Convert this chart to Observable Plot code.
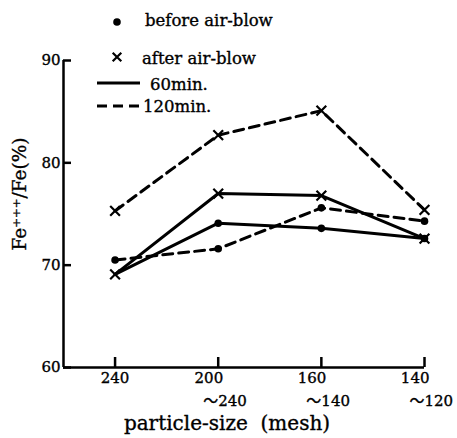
<!DOCTYPE html>
<html><head><meta charset="utf-8">
<script src="https://cdn.jsdelivr.net/npm/d3@7"></script>
<script src="https://cdn.jsdelivr.net/npm/@observablehq/plot@0.6"></script>
<style>
body{margin:0;background:#fff;}
#wrap{position:relative;width:457px;height:438px;}
#legend{position:absolute;left:0;top:0;}
text{stroke:#000;stroke-width:0.35px;}
</style></head><body><div id="wrap"></div>
<script>
// categories (particle size, mesh)
const categories = ["240", "200～240", "160～140", "140～120"];
const tickTop = ["240", "200", "160", "140"];
const tickBottom = ["", "～240", "～140", "～120"];
// Fe+++/Fe (%)
const before60 = [69.1, 74.1, 73.6, 72.6];
const after60 = [69.1, 77.0, 76.8, 72.6];
const before120 = [70.5, 71.6, 75.6, 74.3];
const after120 = [75.3, 82.7, 85.1, 75.4];
const before60Marker = [false, true, true, true];
const yTicks = [60, 70, 80, 90];
const legendLabels = ["before air-blow", "after air-blow", "60min.", "120min."];
const xTitle = "particle-size\u00a0 (mesh)";
const yTitle = "Fe⁺⁺⁺/Fe(%)";

const rows = [];
function add(vals, time, state, marks) {
  vals.forEach((v, i) => rows.push({i, v, time, state, series: state + time, marker: marks ? marks[i] : true}));
}
add(before60, "60", "before", before60Marker);
add(after60, "60", "after");
add(before120, "120", "before");
add(after120, "120", "after");

const idx = categories.map((d, i) => i);
const font = "'DejaVu Serif', 'Noto Sans CJK JP', serif";
const W = 457, H = 438, mT = 60, mB = 71, mL = 63, mR = 33;
const frameW = W - mL - mR, frameH = H - mT - mB;

const plot = Plot.plot({
  width: W, height: H,
  marginTop: mT, marginBottom: mB, marginLeft: mL, marginRight: mR,
  style: {fontFamily: font, fontSize: "15px", color: "#000", background: "#fff"},
  x: {type: "linear", domain: [-0.5, categories.length - 1], axis: null},
  y: {domain: [60, 90], axis: null},
  marks: [
    Plot.ruleX([-0.5], {strokeWidth: 2.5, stroke: "#000"}),
    Plot.ruleY([60], {strokeWidth: 2.5, stroke: "#000"}),
    // inward tick marks
    Plot.tickY(yTicks, {y: d => d, insetRight: frameW - 8, stroke: "#000", strokeWidth: 2.5}),
    Plot.tickX(idx, {x: d => d, insetTop: frameH - 10, stroke: "#000", strokeWidth: 2.5}),
    Plot.text(yTicks, {y: d => d, text: d => String(d), frameAnchor: "left", dx: -3, textAnchor: "end", lineAnchor: "middle", fontSize: 15}),
    Plot.text(idx.filter(i => !tickBottom[i]), {x: d => d, text: d => tickTop[d], frameAnchor: "bottom", dy: 11, lineAnchor: "middle", fontSize: 15}),
    Plot.text(idx.filter(i => tickBottom[i]), {x: d => d, text: d => tickTop[d], frameAnchor: "bottom", dy: 11, dx: 5, textAnchor: "end", lineAnchor: "middle", fontSize: 15}),
    Plot.text(idx.filter(i => tickBottom[i]), {x: d => d, text: d => tickBottom[d], frameAnchor: "bottom", dy: 34, dx: -15, textAnchor: "start", lineAnchor: "middle", fontSize: 15}),
    Plot.text([xTitle], {frameAnchor: "bottom", dy: 56, dx: -17, textAnchor: "middle", lineAnchor: "middle", fontSize: 20}),
    Plot.text([yTitle], {frameAnchor: "left", rotate: -90, dx: -43, dy: -20, textAnchor: "middle", lineAnchor: "middle", fontSize: 18.5}),
    Plot.line(rows.filter(d => d.time === "60"), {x: "i", y: "v", z: "series", stroke: "#000", strokeWidth: 3}),
    Plot.line(rows.filter(d => d.time === "120"), {x: "i", y: "v", z: "series", stroke: "#000", strokeWidth: 3, strokeDasharray: "10,6"}),
    Plot.dot(rows.filter(d => d.state === "before" && d.marker), {x: "i", y: "v", r: 3.8, fill: "#000", stroke: null}),
    Plot.dot(rows.filter(d => d.state === "after"), {x: "i", y: "v", symbol: "times", r: 4.5, stroke: "#000", strokeWidth: 2.2, fill: "none"})
  ]
});
const wrap = document.getElementById("wrap");
wrap.appendChild(plot);

// legend overlay
const lg = d3.create("svg").attr("id", "legend").attr("width", W).attr("height", 120)
  .style("font-family", font).style("font-size", "16.5px");
lg.append("circle").attr("cx", 117).attr("cy", 22).attr("r", 3.8).attr("fill", "#000");
lg.append("text").attr("x", 145).attr("y", 26).text(legendLabels[0]);
lg.append("path").attr("d", d3.symbol(d3.symbolTimes, 50)()).attr("transform", "translate(117,57)").attr("stroke", "#000").attr("stroke-width", 2.2).attr("fill", "none");
lg.append("text").attr("x", 142).attr("y", 64).text(legendLabels[1]);
lg.append("line").attr("x1", 97).attr("x2", 140).attr("y1", 83).attr("y2", 83).attr("stroke", "#000").attr("stroke-width", 3);
lg.append("text").attr("x", 150).attr("y", 90).text(legendLabels[2]);
lg.append("line").attr("x1", 97).attr("x2", 143).attr("y1", 106).attr("y2", 106).attr("stroke", "#000").attr("stroke-width", 3).attr("stroke-dasharray", "10,6");
lg.append("text").attr("x", 143).attr("y", 112).text(legendLabels[3]);
wrap.appendChild(lg.node());
</script></body></html>
